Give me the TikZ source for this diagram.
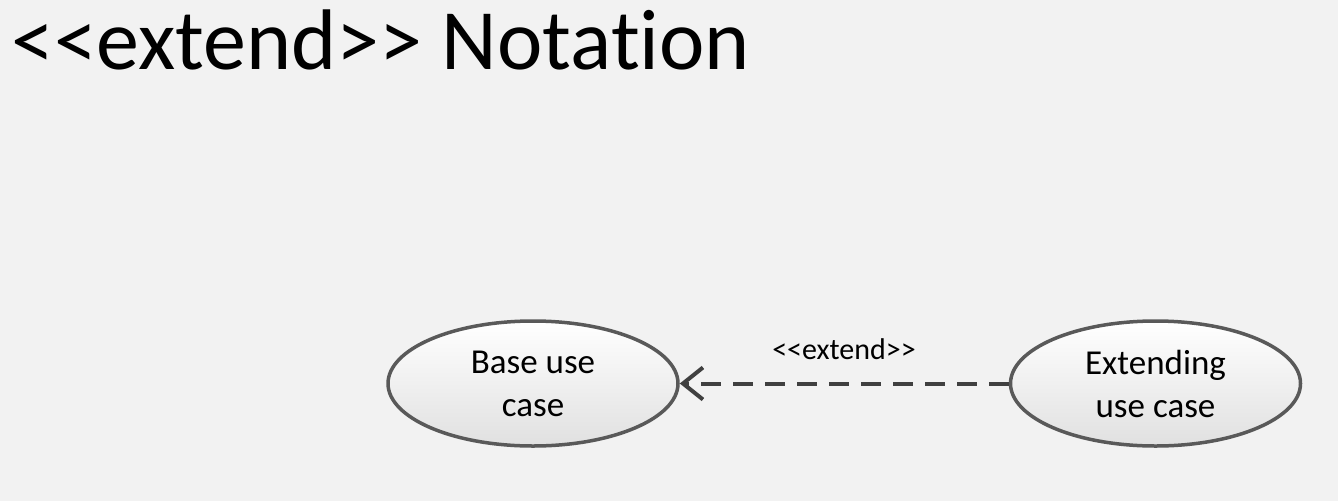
\documentclass[tikz,border=0pt]{standalone}
\usepackage{fontspec}
\setmainfont{Carlito}[Ligatures={TeXOff,CommonOff}]
\usetikzlibrary{shapes.geometric,arrows.meta}
\definecolor{bg}{HTML}{F2F2F2}
\definecolor{edge}{HTML}{595959}
\definecolor{arrowc}{HTML}{404040}
\begin{document}
\begin{tikzpicture}[x=1pt,y=-1pt,
  usecase/.style={ellipse, draw=edge, line width=3.5pt, minimum width=290pt, minimum height=125pt,
    top color=white, bottom color=black!12, middle color=black!6, inner sep=0pt,
    align=center, font=\fontsize{35}{43}\selectfont},
  extendarrow/.style={draw=arrowc, line width=4pt, dash pattern=on 20pt off 12pt,
    -{Straight Barb[length=20pt,width=32pt,line width=4pt]}},
  lbl/.style={font=\fontsize{30}{34}\selectfont, inner sep=0pt, anchor=base},
  titletext/.style={font=\fontsize{86}{100}\selectfont, inner sep=0pt, anchor=base west}]
\fill[bg] (0,0) rectangle (1338,501);
\useasboundingbox (0,0) rectangle (1338,501);
\node[titletext] (title) at (11,69) {<<extend>> Notation};
\node[usecase] (base) at (533,383.5) {Base use\\case};
\node[usecase] (ext) at (1155.5,383.5) {Extending\\use case};
\draw[extendarrow] (ext.west) -- (base.east);
\node[lbl] (lab) at (844,359) {<<extend>>};
\end{tikzpicture}
\end{document}
